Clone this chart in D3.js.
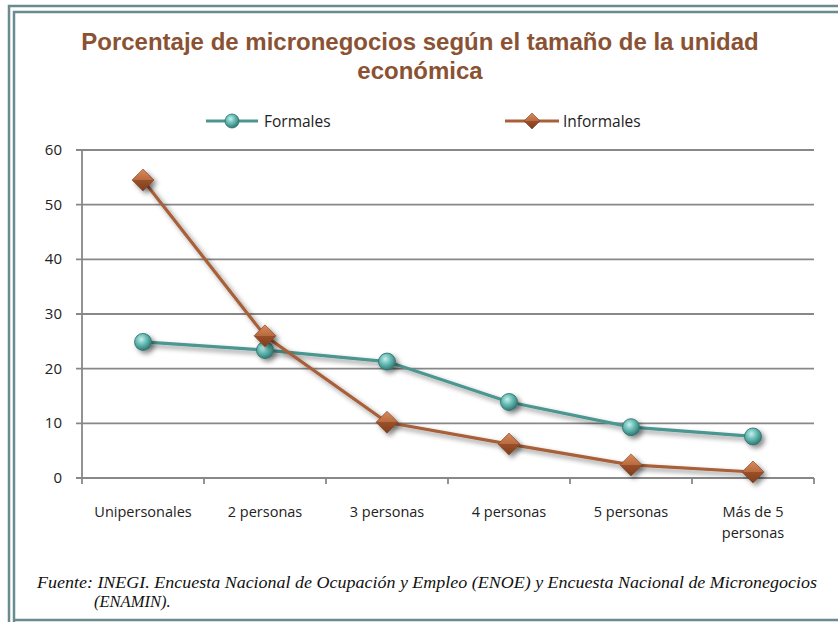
<!DOCTYPE html>
<html>
<head>
<meta charset="utf-8">
<script src="https://cdn.jsdelivr.net/npm/d3@7"></script>
<style>
  body { margin: 0; background: #fff; }
  svg { display: block; }
</style>
</head>
<body>
<div id="chart"></div>
<script>
const categories = ['Unipersonales', '2 personas', '3 personas', '4 personas', '5 personas', 'Más de 5 personas'];
const formales = [24.9, 23.4, 21.3, 13.9, 9.3, 7.6];
const informales = [54.5, 26.0, 10.2, 6.2, 2.4, 1.1];
const yTicks = [0, 10, 20, 30, 40, 50, 60];

const width = 838, height = 622;
const margin = { top: 150, right: 24, bottom: 144, left: 82 };
const innerWidth = width - margin.left - margin.right;
const innerHeight = height - margin.top - margin.bottom;

const svg = d3.select('#chart').append('svg').attr('width', width).attr('height', height);
const defs = svg.append('defs');

// sphere + diamond shading
const ball = defs.append('radialGradient').attr('id', 'ball').attr('cx', '40%').attr('cy', '35%').attr('r', '65%');
ball.append('stop').attr('offset', '0%').attr('stop-color', '#c8f0ec');
ball.append('stop').attr('offset', '45%').attr('stop-color', '#6cc0b9');
ball.append('stop').attr('offset', '100%').attr('stop-color', '#2f7a74');
const dia = defs.append('linearGradient').attr('id', 'dia').attr('x1', 0).attr('y1', 0).attr('x2', 0).attr('y2', 1);
dia.append('stop').attr('offset', '0%').attr('stop-color', '#d98b5c');
dia.append('stop').attr('offset', '50%').attr('stop-color', '#b86a3e');
dia.append('stop').attr('offset', '51%').attr('stop-color', '#9a5029');
dia.append('stop').attr('offset', '100%').attr('stop-color', '#7d3e1d');
const shadow = defs.append('filter').attr('id', 'shadow').attr('x', '-50%').attr('y', '-50%').attr('width', '200%').attr('height', '200%');
shadow.append('feDropShadow').attr('dx', 3).attr('dy', 3).attr('stdDeviation', 2.5).attr('flood-color', '#000').attr('flood-opacity', 0.45);

// double frame
const frameColor = '#6a8c90';
svg.append('path').attr('d', `M9,${height + 5} V6 H${width + 5}`).attr('fill', 'none').attr('stroke', frameColor).attr('stroke-width', 2.5);
svg.append('path').attr('d', `M14,${height + 5} V12 H${width + 5}`).attr('fill', 'none').attr('stroke', frameColor).attr('stroke-width', 2.5);
svg.append('line').attr('x1', 14).attr('x2', width + 5).attr('y1', 620).attr('y2', 620).attr('stroke', frameColor).attr('stroke-width', 2.5);

// title
const title = svg.append('text').attr('text-anchor', 'middle')
  .attr('font-family', 'Liberation Sans, Arial, sans-serif').attr('font-weight', 'bold')
  .attr('font-size', 24).attr('fill', '#8a5232');
title.append('tspan').attr('x', 420).attr('y', 50).text('Porcentaje de micronegocios según el tamaño de la unidad');
title.append('tspan').attr('x', 420).attr('y', 79).text('económica');

const g = svg.append('g').attr('transform', `translate(${margin.left},${margin.top})`);

const x = d3.scaleBand().domain(categories).range([0, innerWidth]);
const y = d3.scaleLinear().domain([0, 60]).range([innerHeight, 0]);
const cx = (i) => x(categories[i]) + x.bandwidth() / 2;

// gridlines
g.append('g').selectAll('line').data(yTicks).join('line')
  .attr('x1', -6).attr('x2', innerWidth)
  .attr('y1', (d) => y(d)).attr('y2', (d) => y(d))
  .attr('stroke', '#888').attr('stroke-width', 1.8);

// y axis
g.append('line').attr('x1', 0).attr('x2', 0).attr('y1', 0).attr('y2', innerHeight)
  .attr('stroke', '#888').attr('stroke-width', 1.8);
g.append('g').selectAll('text').data(yTicks).join('text')
  .attr('x', -20).attr('y', (d) => y(d) + 5)
  .attr('text-anchor', 'end').attr('font-family', 'Open Sans, sans-serif').attr('font-size', 15).attr('fill', '#222')
  .text((d) => d);

// x ticks at band edges
const edges = categories.map((c) => x(c)).concat([innerWidth]);
g.append('g').selectAll('line').data(edges).join('line')
  .attr('x1', (d) => d).attr('x2', (d) => d).attr('y1', innerHeight).attr('y2', innerHeight + 6)
  .attr('stroke', '#888').attr('stroke-width', 1.8);

// x labels
const xLab = g.append('g').selectAll('text').data(categories).join('text')
  .attr('text-anchor', 'middle').attr('font-family', 'Open Sans, sans-serif').attr('font-size', 14.5).attr('fill', '#222')
  .attr('transform', (d) => `translate(${x(d) + x.bandwidth() / 2},${innerHeight + 39})`);
xLab.each(function (d) {
  const t = d3.select(this);
  if (d === 'Más de 5 personas') {
    t.append('tspan').attr('x', 0).attr('y', 0).text('Más de 5');
    t.append('tspan').attr('x', 0).attr('y', 21).text('personas');
  } else {
    t.text(d);
  }
});

const line = d3.line().x((d, i) => cx(i)).y((d) => y(d));

// series lines
g.append('path').datum(formales).attr('d', line).attr('fill', 'none')
  .attr('stroke', '#4c9690').attr('stroke-width', 3.2).attr('filter', 'url(#shadow)');
g.append('path').datum(informales).attr('d', line).attr('fill', 'none')
  .attr('stroke', '#a8603a').attr('stroke-width', 3.2).attr('filter', 'url(#shadow)');

// markers
g.append('g').selectAll('circle').data(formales).join('circle')
  .attr('cx', (d, i) => cx(i)).attr('cy', (d) => y(d)).attr('r', 8.5)
  .attr('fill', 'url(#ball)').attr('stroke', '#2d6f6a').attr('stroke-width', 0.8).attr('filter', 'url(#shadow)');
g.append('g').selectAll('path').data(informales).join('path')
  .attr('transform', (d, i) => `translate(${cx(i)},${y(d)})`)
  .attr('d', 'M0,-11 L11,0 L0,11 L-11,0 Z')
  .attr('fill', 'url(#dia)').attr('stroke', '#7a3d1e').attr('stroke-width', 0.6).attr('filter', 'url(#shadow)');

// legend
const legend = svg.append('g').attr('font-family', 'Open Sans, sans-serif').attr('font-size', 15.5).attr('fill', '#222');
const lf = legend.append('g').attr('transform', 'translate(206,121)');
lf.append('line').attr('x1', 0).attr('x2', 52).attr('stroke', '#4c9690').attr('stroke-width', 3.2);
lf.append('circle').attr('cx', 26).attr('r', 7).attr('fill', 'url(#ball)').attr('stroke', '#2d6f6a').attr('stroke-width', 0.8);
lf.append('text').attr('x', 58).attr('y', 5.5).text('Formales');
const li = legend.append('g').attr('transform', 'translate(505,121)');
li.append('line').attr('x1', 0).attr('x2', 54).attr('stroke', '#a8603a').attr('stroke-width', 3.2);
li.append('path').attr('transform', 'translate(27,0)').attr('d', 'M0,-8 L8,0 L0,8 L-8,0 Z')
  .attr('fill', 'url(#dia)').attr('stroke', '#7a3d1e').attr('stroke-width', 0.6);
li.append('text').attr('x', 58).attr('y', 5.5).text('Informales');

// source note
const note = svg.append('text').attr('font-family', 'Liberation Serif, Times New Roman, serif')
  .attr('font-style', 'italic').attr('font-size', 16.5).attr('fill', '#111');
note.append('tspan').attr('x', 37).attr('y', 588)
  .attr('textLength', 780).attr('lengthAdjust', 'spacingAndGlyphs')
  .text('Fuente: INEGI. Encuesta Nacional de Ocupación y Empleo (ENOE) y Encuesta Nacional de Micronegocios');
note.append('tspan').attr('x', 94).attr('y', 607).text('(ENAMIN).');
</script>
</body>
</html>
